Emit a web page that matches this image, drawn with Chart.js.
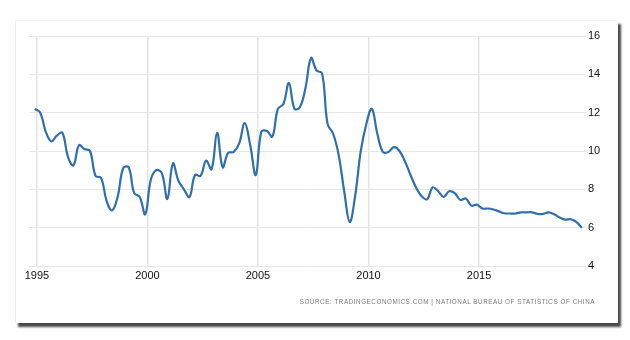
<!DOCTYPE html>
<html>
<head>
<meta charset="utf-8">
<script src="https://cdn.jsdelivr.net/npm/chart.js@4.4.0/dist/chart.umd.min.js"></script>
<style>
  html, body { margin: 0; padding: 0; background: #fff; }
  body { width: 630px; height: 340px; position: relative; overflow: hidden; }
  #card {
    position: absolute; left: 15px; top: 20px; width: 602px; height: 302px;
    background: #fff; border-left: 1px solid #f0f0f0; border-top: 1px solid #f6f6f6;
    box-shadow: 3px 4px 2px #4a4a4a;
  }
  #chart { position: absolute; left: 0; top: 0; }
  #source {
    position: absolute; right: 35px; top: 298px;
    font-family: "Liberation Sans", Arial, sans-serif; font-size: 6.3px;
    letter-spacing: 0.55px; color: #7a7a7a; white-space: nowrap;
  }
</style>
</head>
<body>
<div id="card"></div>
<canvas id="chart" width="630" height="340"></canvas>
<div id="source">SOURCE: TRADINGECONOMICS.COM | NATIONAL BUREAU OF STATISTICS OF CHINA</div>
<script>
// China GDP growth rate, quarterly, year on year (%)
const quarters = [
  '1994Q4',
  '1995Q1','1995Q2','1995Q3','1995Q4','1996Q1','1996Q2','1996Q3','1996Q4',
  '1997Q1','1997Q2','1997Q3','1997Q4','1998Q1','1998Q2','1998Q3','1998Q4',
  '1999Q1','1999Q2','1999Q3','1999Q4','2000Q1','2000Q2','2000Q3','2000Q4',
  '2001Q1','2001Q2','2001Q3','2001Q4','2002Q1','2002Q2','2002Q3','2002Q4',
  '2003Q1','2003Q2','2003Q3','2003Q4','2004Q1','2004Q2','2004Q3','2004Q4',
  '2005Q1','2005Q2','2005Q3','2005Q4','2006Q1','2006Q2','2006Q3','2006Q4',
  '2007Q1','2007Q2','2007Q3','2007Q4','2008Q1','2008Q2','2008Q3','2008Q4',
  '2009Q1','2009Q2','2009Q3','2009Q4','2010Q1','2010Q2','2010Q3','2010Q4',
  '2011Q1','2011Q2','2011Q3','2011Q4','2012Q1','2012Q2','2012Q3','2012Q4',
  '2013Q1','2013Q2','2013Q3','2013Q4','2014Q1','2014Q2','2014Q3','2014Q4',
  '2015Q1','2015Q2','2015Q3','2015Q4','2016Q1','2016Q2','2016Q3','2016Q4',
  '2017Q1','2017Q2','2017Q3','2017Q4','2018Q1','2018Q2','2018Q3','2018Q4',
  '2019Q1','2019Q2','2019Q3'
];
const gdpGrowth = [
  12.2,
  12.0, 11.0, 10.5, 10.8, 10.95, 9.7, 9.25, 10.3,
  10.1, 10.0, 8.7, 8.6, 7.4, 6.9, 7.6, 9.1,
  9.15, 7.8, 7.6, 6.7, 8.5, 9.0, 8.85, 7.5,
  9.35, 8.45, 8.0, 7.6, 8.75, 8.7, 9.5, 9.05,
  10.95, 9.15, 9.9, 9.95, 10.4, 11.45, 10.3, 8.75,
  11.0, 11.05, 10.75, 12.2, 12.45, 13.55, 12.2, 12.3,
  13.3, 14.85, 14.2, 14.05, 11.4, 10.9, 9.8, 7.9,
  6.3, 7.7, 10.0, 11.4, 12.2, 10.9, 9.95, 9.95,
  10.2, 10.0, 9.45, 8.75, 8.1, 7.65, 7.48, 8.1,
  7.9, 7.6, 7.9, 7.8, 7.45, 7.52, 7.15, 7.2,
  7.0, 7.0, 6.95, 6.85, 6.75, 6.74, 6.74, 6.8,
  6.8, 6.8, 6.72, 6.72, 6.8, 6.7, 6.53, 6.42,
  6.44, 6.3, 6.0
];
const yearTicks = [1995, 2000, 2005, 2010, 2015];
const valueTicks = [4, 6, 8, 10, 12, 14, 16];

// quarter label -> decimal year used on the time axis
function quarterToYear(q) {
  const y = parseInt(q.slice(0, 4), 10);
  const n = parseInt(q.slice(5), 10);
  return y + (n - 1) * 0.25 + 0.15;
}

const points = quarters.map((q, i) => ({ x: quarterToYear(q), y: gdpGrowth[i] }));

const tickFont = { family: "'Liberation Sans', Arial, sans-serif", size: 11 };

new Chart(document.getElementById('chart').getContext('2d'), {
  type: 'line',
  data: {
    datasets: [{
      data: points,
      borderColor: '#2f6fae',
      borderWidth: 2.2,
      pointRadius: 0,
      tension: 0.4,
      fill: false
    }]
  },
  options: {
    responsive: false,
    animation: false,
    layout: { padding: { left: 29, top: 36, right: 0, bottom: 0 } },
    plugins: { legend: { display: false }, tooltip: { enabled: false } },
    scales: {
      x: {
        type: 'linear',
        min: 1994.64,
        max: 2019.84,
        afterBuildTicks: scale => { scale.ticks = yearTicks.map(v => ({ value: v })); },
        afterFit: scale => { scale.height = 74; },
        border: { display: false },
        grid: { color: '#e4e4e4', lineWidth: 1.5, drawTicks: false },
        ticks: {
          color: '#111',
          font: tickFont,
          padding: 3,
          maxRotation: 0,
          callback: v => String(v)
        }
      },
      y: {
        position: 'right',
        min: 4,
        max: 16,
        afterBuildTicks: scale => { scale.ticks = valueTicks.map(v => ({ value: v })); },
        afterFit: scale => { scale.width = 44; },
        border: { display: false },
        grid: { color: '#e6e6e6', lineWidth: 1, drawTicks: false },
        ticks: {
          color: '#111',
          font: tickFont,
          padding: 2
        }
      }
    }
  }
});
</script>
</body>
</html>
